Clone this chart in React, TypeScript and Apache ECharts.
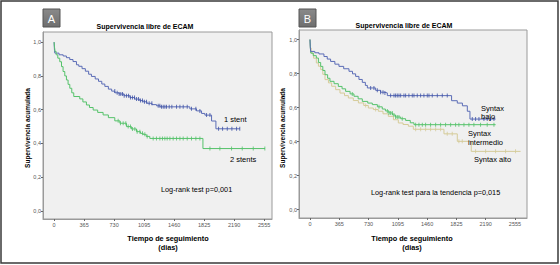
import React, { useEffect, useRef } from 'react';
import * as echarts from 'echarts';

const xTickValues = [0, 365, 730, 1095, 1460, 1825, 2190, 2555];
const yTickValues = [0, 0.2, 0.4, 0.6, 0.8, 1.0];

const chartTitle = 'Supervivencia libre de ECAM';
const yTitle = 'Supervivencia acumulada';
const xTitle1 = 'Tiempo de seguimiento';
const xTitle2 = '(dias)';

// Panel A: 1 stent vs 2 stents  [day, survival]
const oneStent: number[][] = [
  [0, 1], [2, 0.975], [5, 0.95], [9, 0.935], [60, 0.925], [110, 0.918], [150, 0.908], [190, 0.897],
  [230, 0.885], [272, 0.866], [300, 0.857], [340, 0.843], [380, 0.828], [420, 0.81], [454, 0.797],
  [500, 0.782], [540, 0.768], [580, 0.752], [617, 0.738], [660, 0.722], [700, 0.71], [739, 0.7],
  [790, 0.693], [850, 0.683], [921, 0.672], [980, 0.663], [1040, 0.654], [1083, 0.647], [1130, 0.638],
  [1190, 0.63], [1246, 0.623], [1290, 0.617], [1651, 0.605], [1732, 0.593], [1793, 0.578], [1834, 0.568],
  [1915, 0.533], [1968, 0.487], [2260, 0.487],
];
const oneStentCensored = [738, 767, 791, 811, 832, 852, 880, 905, 929, 953, 978, 1002, 1026, 1051, 1075, 1099,
  1124, 1156, 1189, 1266, 1286, 1306, 1327, 1347, 1367, 1400, 1432, 1489, 1530, 1570, 1619, 1671, 1724, 1773,
  1854, 1895, 2000, 2049, 2106, 2162, 2219, 2258];

const twoStents: number[][] = [
  [0, 1], [5, 0.97], [12, 0.945], [25, 0.925], [45, 0.905], [69, 0.884], [90, 0.855], [109, 0.826],
  [130, 0.8], [150, 0.776], [170, 0.75], [191, 0.727], [215, 0.7], [239, 0.678], [312, 0.664],
  [350, 0.646], [393, 0.628], [430, 0.613], [475, 0.598], [530, 0.584], [596, 0.569], [660, 0.553],
  [738, 0.534], [800, 0.52], [880, 0.5], [940, 0.486], [1002, 0.47], [1050, 0.46], [1083, 0.454],
  [1120, 0.442], [1164, 0.43], [1810, 0.37], [2565, 0.37],
];
const twoStentsCensored = [779, 807, 840, 872, 901, 929, 953, 982, 1010, 1043, 1075, 1103, 1132, 1205, 1245,
  1286, 1318, 1347, 1375, 1408, 1448, 1489, 1530, 1570, 1619, 1671, 1724, 1773, 1895, 2016, 2158, 2288, 2422, 2563];

// Panel B: Syntax groups
const syntaxBajo: number[][] = [
  [0, 1], [3, 0.96], [8, 0.93], [60, 0.922], [112, 0.915], [174, 0.9], [215, 0.885], [257, 0.871],
  [310, 0.855], [361, 0.842], [420, 0.828], [486, 0.813], [530, 0.798], [569, 0.783], [610, 0.765],
  [652, 0.748], [690, 0.73], [715, 0.715], [818, 0.701], [880, 0.69], [922, 0.686], [964, 0.67],
  [1765, 0.64], [1836, 0.626], [1900, 0.61], [1961, 0.578], [1994, 0.532], [2314, 0.532],
];
const syntaxBajoCensored = [756, 797, 839, 880, 910, 934, 1005, 1047, 1067, 1088, 1109, 1130, 1171, 1192, 1233,
  1275, 1296, 1337, 1379, 1420, 1462, 1483, 1524, 1587, 1649, 1711, 2023, 2064, 2106, 2168, 2209, 2251, 2293];

const syntaxIntermedio: number[][] = [
  [0, 1], [5, 0.95], [10, 0.92], [40, 0.905], [79, 0.891], [105, 0.865], [133, 0.842], [160, 0.818],
  [187, 0.793], [220, 0.772], [249, 0.754], [300, 0.74], [353, 0.724], [400, 0.71], [444, 0.695],
  [500, 0.68], [548, 0.666], [600, 0.651], [652, 0.636], [720, 0.626], [777, 0.617], [840, 0.604],
  [901, 0.591], [940, 0.58], [984, 0.568], [1030, 0.556], [1067, 0.544], [1130, 0.534], [1192, 0.524],
  [1250, 0.51], [1296, 0.499], [2314, 0.499],
];
const syntaxIntermedioCensored = [527, 860, 964, 984, 1005, 1026, 1047, 1067, 1088, 1109, 1150, 1317, 1358,
  1400, 1441, 1503, 1566, 1628, 1690, 1753, 1815, 1856, 1919, 1981, 2043, 2126, 2209, 2293];

const syntaxAlto: number[][] = [
  [0, 1], [5, 0.95], [15, 0.92], [45, 0.89], [79, 0.862], [105, 0.843], [133, 0.823], [160, 0.795],
  [187, 0.764], [230, 0.745], [270, 0.725], [320, 0.705], [374, 0.685], [430, 0.67], [478, 0.656],
  [540, 0.641], [603, 0.627], [670, 0.612], [727, 0.597], [790, 0.588], [852, 0.578], [910, 0.563],
  [976, 0.548], [1040, 0.528], [1101, 0.509], [1160, 0.5], [1226, 0.49], [1288, 0.472], [1670, 0.445],
  [1836, 0.401], [2010, 0.342], [2625, 0.342],
];
const syntaxAltoCensored = [694, 818, 1317, 1379, 1441, 1503, 1566, 1628, 1711, 1773, 1856, 1898, 2064, 2189,
  2313, 2438, 2562];

const BLUE = '#5b6cb6';
const BLUE_DARK = '#3f53a6';
const GREEN = '#55c26a';
const KHAKI = '#d5cb98';

function stepAt(curve: number[][], day: number): number {
  let v = curve[0][1];
  for (const [d, s] of curve) {
    if (d <= day) v = s;
    else break;
  }
  return v;
}

function curveSeries(curve: number[][], color: string, idx: number) {
  return {
    type: 'line',
    xAxisIndex: idx,
    yAxisIndex: idx,
    step: 'end',
    data: curve,
    showSymbol: false,
    symbol: 'none',
    lineStyle: { color, width: 1 },
    itemStyle: { color },
    silent: true,
    z: 3,
  };
}

function censorSeries(curve: number[][], days: number[], color: string, idx: number) {
  return {
    type: 'scatter',
    xAxisIndex: idx,
    yAxisIndex: idx,
    data: days.map((d) => [d, stepAt(curve, d)]),
    symbol: 'rect',
    symbolSize: [1, 4],
    itemStyle: { color },
    silent: true,
    z: 4,
  };
}

function xAxis(idx: number, min: number, max: number) {
  return {
    type: 'value',
    gridIndex: idx,
    min,
    max,
    axisLine: { show: true, onZero: false, lineStyle: { color: '#9a9a9a', width: 1 } },
    axisTick: { show: true, customValues: xTickValues, length: 2, lineStyle: { color: '#666' } },
    axisLabel: {
      show: true,
      customValues: xTickValues,
      fontSize: 5.5,
      color: '#555',
      margin: 3,
      fontFamily: 'Liberation Sans',
      formatter: (v: number) => String(Math.round(v)),
    },
    splitLine: { show: false },
  };
}

function yAxis(idx: number, min: number, max: number) {
  return {
    type: 'value',
    gridIndex: idx,
    min,
    max,
    axisLine: { show: true, onZero: false, lineStyle: { color: '#9a9a9a', width: 1 } },
    axisTick: { show: true, customValues: yTickValues, length: 2, lineStyle: { color: '#666' } },
    axisLabel: {
      show: true,
      customValues: yTickValues,
      fontSize: 5.5,
      color: '#555',
      margin: 2,
      fontFamily: 'Liberation Sans',
      formatter: (v: number) => v.toFixed(1).replace('.', ','),
    },
    splitLine: { show: false },
  };
}

function txt(x: number, y: number, text: string, opts: any = {}) {
  return {
    type: 'text',
    x,
    y,
    rotation: opts.rotation || 0,
    z: 10,
    style: {
      text,
      fill: opts.fill || '#000000',
      fontSize: opts.fontSize || 7.5,
      fontWeight: opts.fontWeight || 'normal',
      fontFamily: 'Liberation Sans',
      align: opts.align || 'left',
      verticalAlign: 'middle',
    },
  };
}

function letterBox(x: number, y: number, letter: string) {
  return [
    {
      type: 'rect',
      shape: { x, y, width: 17, height: 18 },
      style: {
        fill: new echarts.graphic.LinearGradient(0, 0, 0, 1, [
          { offset: 0, color: '#8a8a8a' },
          { offset: 1, color: '#6e6e6e' },
        ]),
        stroke: '#555',
        lineWidth: 1,
      },
      z: 9,
    },
    txt(x + 8.5, y + 9.5, letter, { fill: '#ffffff', fontSize: 11, align: 'center' }),
  ];
}

export default function App() {
  const ref = useRef<HTMLDivElement>(null);

  useEffect(() => {
    if (!ref.current) return;
    const chart = echarts.init(ref.current, null, { renderer: 'svg' });
    const option: any = {
      animation: false,
      backgroundColor: '#ffffff',
      grid: [
        { left: 43, top: 32, width: 229, height: 187, show: true, backgroundColor: '#f0f0f0', borderColor: '#9a9a9a', borderWidth: 1 },
        { left: 299, top: 30, width: 228, height: 188, show: true, backgroundColor: '#f0f0f0', borderColor: '#9a9a9a', borderWidth: 1 },
      ],
      xAxis: [xAxis(0, -135, 2650), xAxis(1, -137, 2705)],
      yAxis: [yAxis(0, -0.047, 1.06), yAxis(1, -0.05, 1.056)],
      series: [
        curveSeries(oneStent, BLUE, 0),
        curveSeries(twoStents, GREEN, 0),
        censorSeries(oneStent, oneStentCensored, BLUE_DARK, 0),
        censorSeries(twoStents, twoStentsCensored, GREEN, 0),
        curveSeries(syntaxAlto, KHAKI, 1),
        curveSeries(syntaxIntermedio, GREEN, 1),
        curveSeries(syntaxBajo, BLUE, 1),
        censorSeries(syntaxAlto, syntaxAltoCensored, KHAKI, 1),
        censorSeries(syntaxIntermedio, syntaxIntermedioCensored, GREEN, 1),
        censorSeries(syntaxBajo, syntaxBajoCensored, BLUE_DARK, 1),
      ],
      graphic: [
        {
          type: 'rect',
          shape: { x: 1, y: 1, width: 557, height: 262 },
          style: { fill: 'none', stroke: '#3a3a3a', lineWidth: 1.5 },
          z: 1,
        },
        ...letterBox(43, 9, 'A'),
        ...letterBox(299, 9, 'B'),
        txt(145, 26, chartTitle, { fontSize: 7, fontWeight: 'bold', align: 'center' }),
        txt(404, 25, chartTitle, { fontSize: 7, fontWeight: 'bold', align: 'center' }),
        txt(27, 128, yTitle, { fontSize: 6.5, fontWeight: 'bold', align: 'center', rotation: Math.PI / 2 }),
        txt(282, 128, yTitle, { fontSize: 6.5, fontWeight: 'bold', align: 'center', rotation: Math.PI / 2 }),
        txt(168, 238, xTitle1, { fontSize: 7.3, fontWeight: 'bold', align: 'center' }),
        txt(168, 247, xTitle2, { fontSize: 7.3, fontWeight: 'bold', align: 'center' }),
        txt(412, 238, xTitle1, { fontSize: 7.3, fontWeight: 'bold', align: 'center' }),
        txt(412, 247, xTitle2, { fontSize: 7.3, fontWeight: 'bold', align: 'center' }),
        txt(224, 119, '1 stent'),
        txt(230, 159, '2 stents'),
        txt(161, 189, 'Log-rank test p=0,001', { fontSize: 7.3 }),
        txt(481, 108, 'Syntax'),
        txt(481, 116, 'bajo'),
        txt(468, 133, 'Syntax'),
        txt(468, 142, 'intermedio'),
        txt(474, 159, 'Syntax alto'),
        txt(371, 192, 'Log-rank test para la tendencia p=0,015', { fontSize: 7.3 }),
      ],
    };
    chart.setOption(option);
    return () => chart.dispose();
  }, []);

  return (
    <div
      ref={ref}
      style={{ position: 'absolute', left: 0, top: 0, width: 560, height: 265 }}
    />
  );
}
